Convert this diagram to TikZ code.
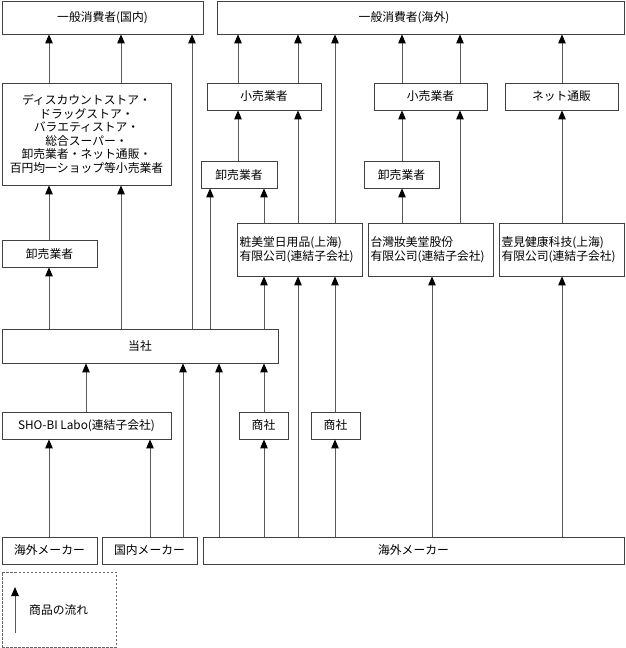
\documentclass[tikz,border=0pt]{standalone}
\usepackage{fontspec}
\setmainfont{Noto Sans CJK JP}
\usetikzlibrary{arrows.meta}
\newcommand\fx[3]{\path (#1,0) coordinate (fxc); \draw[flow] (#2 -| fxc) -- (#3 -| fxc);}
\begin{document}
\begin{tikzpicture}[x=1pt,y=-1pt,
  bx/.style={draw=black!75,line width=0.8pt,inner sep=0pt,font=\fontsize{11.8}{13.6}\selectfont,align=center},
  sub/.style={bx,align=left,text width=120pt,inner xsep=2.5pt,minimum height=53pt},
  flow/.style={draw=black!65,line width=0.9pt,-{Triangle[width=7.5pt,length=9pt,color=black]}}]
\useasboundingbox (0,0) rectangle (625,648);
% top row
\node[bx,minimum width=201pt,minimum height=33pt] (c1) at (102.5,17.5) {一般消費者(国内)};
\node[bx,minimum width=407pt,minimum height=33pt] (c2) at (420.5,17.5) {一般消費者(海外)\hspace*{33pt}};
% retail row
\node[bx,minimum width=169pt,minimum height=102pt] (ds) at (86.5,134) {ディスカウントストア・\\ドラッグストア・\\バラエティストア・\\総合スーパー・\\卸売業者・ネット通販・\\百円均一ショップ等小売業者};
\node[bx,minimum width=114pt,minimum height=27pt] (r1) at (264,96.5) {小売業者};
\node[bx,minimum width=113pt,minimum height=27pt] (r2) at (430.5,96.5) {小売業者};
\node[bx,minimum width=113pt,minimum height=27pt] (nt) at (561.5,96.5) {ネット通販};
% wholesalers
\node[bx,minimum width=76pt,minimum height=27pt] (w2) at (239,174.5) {卸売業者};
\node[bx,minimum width=75pt,minimum height=27pt] (w3) at (401.5,174.5) {卸売業者};
\node[bx,minimum width=95pt,minimum height=27pt] (w1) at (49.5,253.5) {卸売業者};
% subsidiaries
\node[sub] (s1) at (299.5,249.5) {粧美堂日用品(上海)\\有限公司(連結子会社)};
\node[sub] (s2) at (430.5,249.5) {台灣妝美堂股份\\有限公司(連結子会社)};
\node[sub] (s3) at (561.5,249.5) {壹見健康科技(上海)\\有限公司(連結子会社)};
% company
\node[bx,minimum width=276pt,minimum height=34pt] (ts) at (140,346) {当社};
% middle row
\node[bx,minimum width=169pt,minimum height=27pt] (lb) at (86.5,425.5) {SHO-BI Labo(連結子会社)};
\node[bx,minimum width=49pt,minimum height=27pt] (t1) at (263.5,425.5) {商社};
\node[bx,minimum width=49pt,minimum height=27pt] (t2) at (335.5,425.5) {商社};
% makers
\node[bx,minimum width=95pt,minimum height=27pt] (m1) at (49.5,550.5) {海外メーカー};
\node[bx,minimum width=95pt,minimum height=27pt] (m2) at (149.5,550.5) {国内メーカー};
\node[bx,minimum width=421pt,minimum height=27pt] (m3) at (413.5,550.5) {海外メーカー};
% flows
\fx{49}{ds.north}{c1.south}
\fx{121}{ds.north}{c1.south}
\fx{192}{ts.north}{c1.south}
\fx{49}{w1.north}{ds.south}
\fx{121}{ts.north}{ds.south}
\fx{49}{ts.north}{w1.south}
\fx{210}{ts.north}{w2.south}
\fx{238}{w2.north}{r1.south}
\fx{238}{r1.north}{c2.south}
\fx{298}{r1.north}{c2.south}
\fx{264}{s1.north}{w2.south}
\fx{298}{s1.north}{r1.south}
\fx{335}{s1.north}{c2.south}
\fx{402}{r2.north}{c2.south}
\fx{460}{r2.north}{c2.south}
\fx{402}{w3.north}{r2.south}
\fx{402}{s2.north}{w3.south}
\fx{460}{s2.north}{r2.south}
\fx{562}{nt.north}{c2.south}
\fx{562}{s3.north}{nt.south}
\fx{264}{ts.north}{s1.south}
\fx{298}{m3.north}{s1.south}
\fx{335}{t2.north}{s1.south}
\fx{335}{m3.north}{t2.south}
\fx{432}{m3.north}{s2.south}
\fx{562}{m3.north}{s3.south}
\fx{264}{t1.north}{ts.south}
\fx{264}{m3.north}{t1.south}
\fx{219}{m3.north}{ts.south}
\fx{183}{m2.north}{ts.south}
\fx{86}{lb.north}{ts.south}
\fx{49}{m1.north}{lb.south}
\fx{150}{m2.north}{lb.south}
% legend
\node[draw=black!60,line width=0.8pt,dash pattern=on 2.5pt off 1.5pt,minimum width=114pt,minimum height=75pt,inner sep=0pt] (lg) at (59,609.5) {};
\coordinate (la) at (15,633);
\coordinate (lz) at (15,587);
\draw[flow] (la) -- (lz);
\node[anchor=west,inner sep=0pt,font=\fontsize{11.8}{13.6}\selectfont] (lt) at (29,610) {商品の流れ};
\end{tikzpicture}
\end{document}
